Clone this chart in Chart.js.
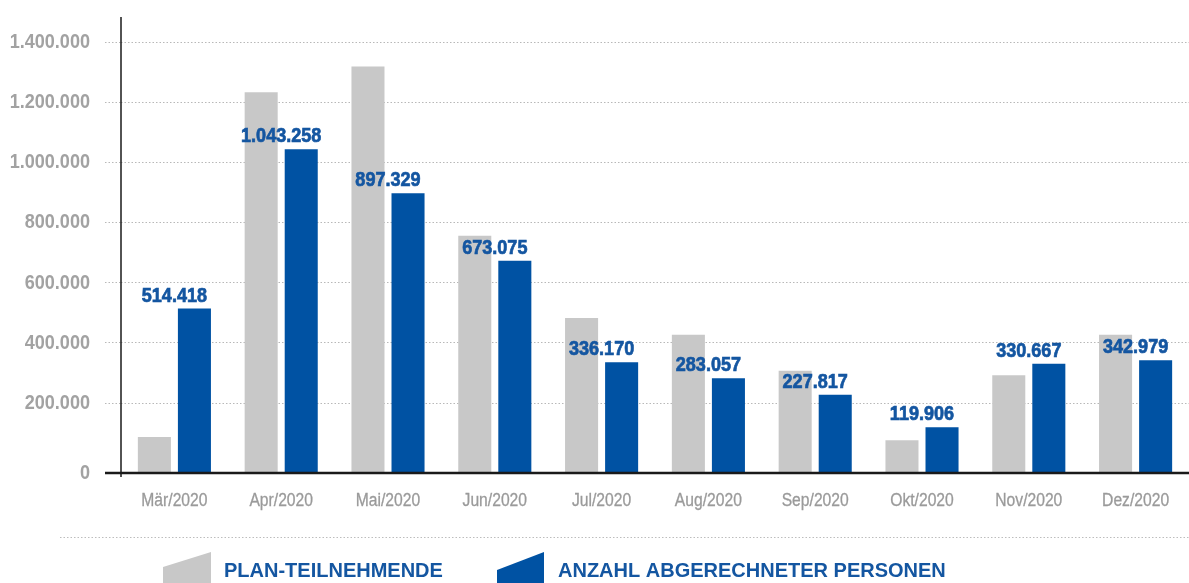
<!DOCTYPE html>
<html>
<head>
<meta charset="utf-8">
<script src="https://cdn.jsdelivr.net/npm/chart.js@4.4.1/dist/chart.umd.min.js"></script>
<style>
  html, body { margin: 0; padding: 0; background: #fff; }
  #wrap { width: 1189px; height: 583px; }
</style>
</head>
<body>
<div id="wrap"><canvas id="chart" width="1189" height="583"></canvas></div>
<script>
// Monate
const months = ['Mär/2020', 'Apr/2020', 'Mai/2020', 'Jun/2020', 'Jul/2020',
  'Aug/2020', 'Sep/2020', 'Okt/2020', 'Nov/2020', 'Dez/2020'];

// Plan-Teilnehmende (aus dem Bild geschätzt)
const planValues = [88000, 1233000, 1319000, 756000, 483000, 427000, 308000, 77000, 293000, 427000];

// Anzahl abgerechneter Personen
const billedValues = [514418, 1043258, 897329, 673075, 336170, 283057, 227817, 119906, 330667, 342979];

const yTicks = [0, 200000, 400000, 600000, 800000, 1000000, 1200000, 1400000];
const seriesNames = ['PLAN-TEILNEHMENDE', 'ANZAHL ABGERECHNETER PERSONEN'];

const SANS = "'Liberation Sans', Arial, sans-serif";
const GRAY = '#c8c8c8';
const BLUE = '#0052a3';
const LABEL_BLUE = '#1456a1';
const TICK_GRAY = '#a2a2a2';

function fmt(v) {
  return String(v).replace(/\B(?=(\d{3})+(?!\d))/g, '.');
}

// schmale Schrift gibt es nicht, also horizontal stauchen
function narrowText(ctx, text, x, y, sx, stroke) {
  ctx.save();
  ctx.translate(x, y);
  ctx.scale(sx, 1);
  ctx.fillText(text, 0, 0);
  if (stroke) {
    ctx.strokeStyle = ctx.fillStyle;
    ctx.lineWidth = stroke;
    ctx.strokeText(text, 0, 0);
  }
  ctx.restore();
}

const decor = {
  id: 'decor',
  afterDraw(chart) {
    const ctx = chart.ctx;
    const area = chart.chartArea;
    const x = chart.scales.x;
    const y = chart.scales.y;
    ctx.save();

    // Achsenlinien
    ctx.strokeStyle = '#1a1a1a';
    ctx.lineWidth = 1.5;
    ctx.beginPath();
    ctx.moveTo(area.left, 17);
    ctx.lineTo(area.left, area.bottom + 4);
    ctx.stroke();
    ctx.lineWidth = 2.5;
    ctx.beginPath();
    ctx.moveTo(105, area.bottom);
    ctx.lineTo(chart.width, area.bottom);
    ctx.stroke();

    // y-Beschriftung
    ctx.fillStyle = TICK_GRAY;
    ctx.font = "bold 21px " + SANS;
    ctx.textAlign = 'right';
    ctx.textBaseline = 'middle';
    yTicks.forEach(v => {
      const py = v === 0 ? area.bottom : y.getPixelForValue(v);
      narrowText(ctx, fmt(v), 90, py, 0.86);
    });

    // x-Beschriftung
    ctx.fillStyle = '#9a9a9a';
    ctx.font = "18px " + SANS;
    ctx.textAlign = 'center';
    months.forEach((m, i) => {
      narrowText(ctx, m, x.getPixelForValue(i), 501, 0.87, 0.3);
    });

    // Werte über den blauen Balken
    const meta = chart.getDatasetMeta(1);
    ctx.fillStyle = LABEL_BLUE;
    ctx.font = "bold 21px " + SANS;
    ctx.textAlign = 'center';
    ctx.textBaseline = 'alphabetic';
    meta.data.forEach((bar, i) => {
      narrowText(ctx, fmt(billedValues[i]), x.getPixelForValue(i), bar.y - 7, 0.86, 0.7);
    });

    // Trennlinie
    ctx.strokeStyle = '#bdbdbd';
    ctx.lineWidth = 1;
    ctx.setLineDash([1.5, 2]);
    ctx.beginPath();
    ctx.moveTo(60, 537.5);
    ctx.lineTo(chart.width, 537.5);
    ctx.stroke();
    ctx.setLineDash([]);

    // Legende
    const items = [
      { x0: 163, x1: 211, yl: 567, tx: 224 },
      { x0: 497, x1: 544, yl: 570, tx: 558 }
    ];
    items.forEach((it, i) => {
      ctx.fillStyle = chart.data.datasets[i].backgroundColor;
      ctx.beginPath();
      ctx.moveTo(it.x0, it.yl);
      ctx.lineTo(it.x1, 552);
      ctx.lineTo(it.x1, 590);
      ctx.lineTo(it.x0, 590);
      ctx.closePath();
      ctx.fill();
      ctx.fillStyle = LABEL_BLUE;
      ctx.font = "bold 20px " + SANS;
      ctx.textAlign = 'left';
      ctx.fillText(chart.data.datasets[i].label, it.tx, 577);
    });
    ctx.restore();
  }
};

new Chart(document.getElementById('chart'), {
  type: 'bar',
  data: {
    labels: months,
    datasets: [
      { label: seriesNames[0], data: planValues, backgroundColor: GRAY, base: -32000,
        categoryPercentage: 0.75, barPercentage: 0.825 },
      { label: seriesNames[1], data: billedValues, backgroundColor: BLUE, base: -32000,
        categoryPercentage: 0.75, barPercentage: 0.825 }
    ]
  },
  options: {
    responsive: false,
    animation: false,
    devicePixelRatio: 1,
    layout: { padding: { top: 42, right: 0, left: 0, bottom: 0 } },
    plugins: { legend: { display: false }, tooltip: { enabled: false } },
    scales: {
      x: {
        grid: { display: false, drawTicks: false },
        border: { display: false },
        ticks: { display: false },
        afterFit(scale) { scale.height = 110; }
      },
      y: {
        min: -32000,
        max: 1400000,
        afterBuildTicks(scale) { scale.ticks = yTicks.map(v => ({ value: v })); },
        grid: {
          color: ctx => (ctx.tick && ctx.tick.value === 0) ? 'rgba(0,0,0,0)' : '#b8b8b8',
          tickColor: ctx => (ctx.tick && ctx.tick.value === 0) ? 'rgba(0,0,0,0)' : '#b8b8b8',
          lineWidth: 1,
          tickLength: 16,
          tickBorderDash: [1.5, 2]
        },
        border: { display: false, dash: [1.5, 2] },
        ticks: { display: false },
        afterFit(scale) { scale.width = 121; }
      }
    }
  },
  plugins: [decor]
});
</script>
</body>
</html>
